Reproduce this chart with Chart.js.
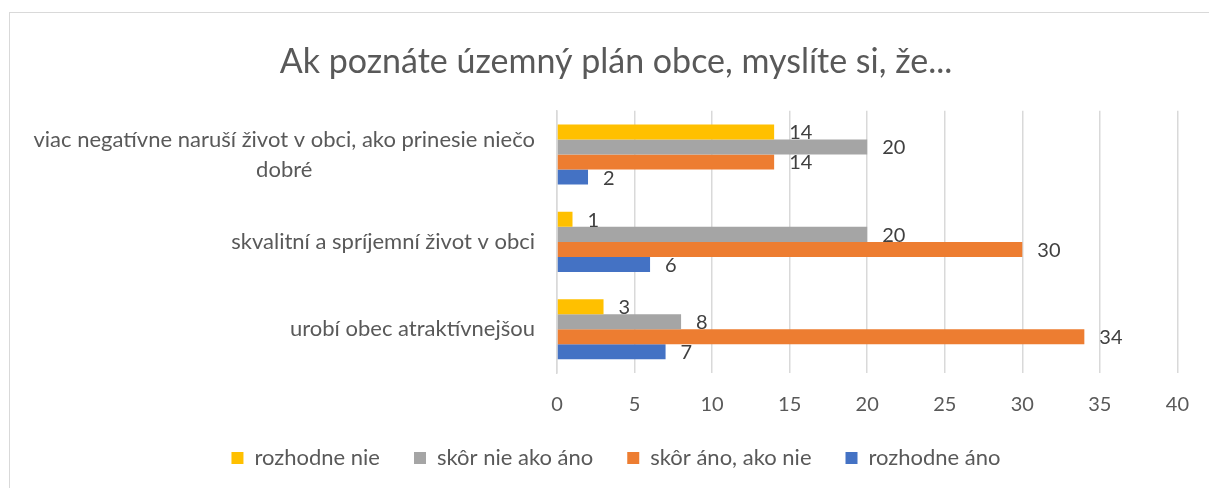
<!DOCTYPE html>
<html>
<head>
<meta charset="utf-8">
<script src="https://cdn.jsdelivr.net/npm/chart.js@4/dist/chart.umd.min.js"></script>
<style>
  html, body { margin: 0; padding: 0; background: #ffffff; }
  #wrap { position: relative; width: 1209px; height: 488px; }
  canvas { display: block; }
</style>
</head>
<body>
<div id="wrap"><canvas id="c" width="1209" height="488"></canvas></div>
<script>
const titleText = 'Ak poznáte územný plán obce, myslíte si, že...';
const categories = [
  ['viac negatívne naruší život v obci, ako prinesie niečo', 'dobré'],
  ['skvalitní a spríjemní život v obci'],
  ['urobí obec atraktívnejšou']
];
const seriesNames = ['rozhodne nie', 'skôr nie ako áno', 'skôr áno, ako nie', 'rozhodne áno'];
const rozhodneNie = [14, 1, 3];
const skorNieAkoAno = [20, 20, 8];
const skorAnoAkoNie = [14, 30, 34];
const rozhodneAno = [2, 6, 7];
const seriesColors = ['#FFC000', '#A5A5A5', '#ED7D31', '#4472C4'];
const xTicks = [0, 5, 10, 15, 20, 25, 30, 35, 40];

const FONT = 'Lato';
const TEXT = '#595959';

const framePlugin = {
  id: 'frame',
  beforeDraw(chart) {
    const ctx = chart.ctx;
    ctx.save();
    ctx.strokeStyle = '#d9d9d9';
    ctx.lineWidth = 1;
    ctx.strokeRect(9.5, 12.5, 1400, 700);
    ctx.restore();
  }
};

const catLabelPlugin = {
  id: 'catLabels',
  afterDraw(chart) {
    const ctx = chart.ctx;
    const yScale = chart.scales.y;
    const rightEdge = chart.chartArea.left - 22;
    const lineH = 30;
    ctx.save();
    ctx.font = '22px ' + FONT;
    ctx.fillStyle = TEXT;
    ctx.textBaseline = 'middle';
    ctx.textAlign = 'center';
    categories.forEach((lines, i) => {
      const cy = yScale.getPixelForValue(i);
      const w = Math.max(...lines.map(l => ctx.measureText(l).width));
      const cx = rightEdge - w / 2;
      const y0 = cy - (lines.length - 1) * lineH / 2;
      lines.forEach((l, j) => ctx.fillText(l, cx, y0 + j * lineH));
    });
    ctx.restore();
  }
};

const valueLabelPlugin = {
  id: 'valueLabels',
  afterDatasetsDraw(chart) {
    const ctx = chart.ctx;
    ctx.save();
    ctx.font = '20px ' + FONT;
    ctx.fillStyle = '#404040';
    ctx.textBaseline = 'middle';
    ctx.textAlign = 'left';
    chart.data.datasets.forEach((ds, di) => {
      const meta = chart.getDatasetMeta(di);
      meta.data.forEach((el, i) => {
        ctx.fillText(String(ds.data[i]), el.x + 15, el.y + 1);
      });
    });
    ctx.restore();
  }
};

const seriesData = [rozhodneNie, skorNieAkoAno, skorAnoAkoNie, rozhodneAno];

new Chart(document.getElementById('c'), {
  type: 'bar',
  data: {
    labels: categories.map(c => c.join(' ')),
    datasets: seriesNames.map((name, i) => ({
      label: name,
      data: seriesData[i],
      backgroundColor: seriesColors[i],
      borderWidth: 0,
      categoryPercentage: 0.688,
      barPercentage: 1.0
    }))
  },
  options: {
    indexAxis: 'y',
    responsive: false,
    animation: false,
    devicePixelRatio: 1,
    layout: { padding: { left: 54, right: 31, top: 0, bottom: 9 } },
    plugins: {
      title: {
        display: true,
        text: titleText,
        color: TEXT,
        font: { family: FONT, size: 34, weight: 'normal' },
        padding: { top: 42, bottom: 28 }
      },
      legend: {
        display: true,
        position: 'bottom',
        labels: {
          color: TEXT,
          font: { family: FONT, size: 22 },
          boxWidth: 12,
          boxHeight: 12,
          padding: 34
        }
      },
      tooltip: { enabled: false }
    },
    scales: {
      x: {
        type: 'linear',
        min: xTicks[0],
        max: xTicks[xTicks.length - 1],
        afterBuildTicks(scale) { scale.ticks = xTicks.map(v => ({ value: v })); },
        afterFit(scale) { scale.height = 40; },
        grid: { color: '#d9d9d9', lineWidth: 1.5, drawTicks: false },
        border: { display: false },
        ticks: { color: TEXT, font: { family: FONT, size: 20 }, padding: 20 }
      },
      y: {
        afterFit(scale) { scale.width = 503; },
        grid: { display: false, drawTicks: false },
        border: { display: true, color: '#d9d9d9', width: 1.5 },
        ticks: { display: false }
      }
    }
  },
  plugins: [framePlugin, catLabelPlugin, valueLabelPlugin]
});
</script>
</body>
</html>
